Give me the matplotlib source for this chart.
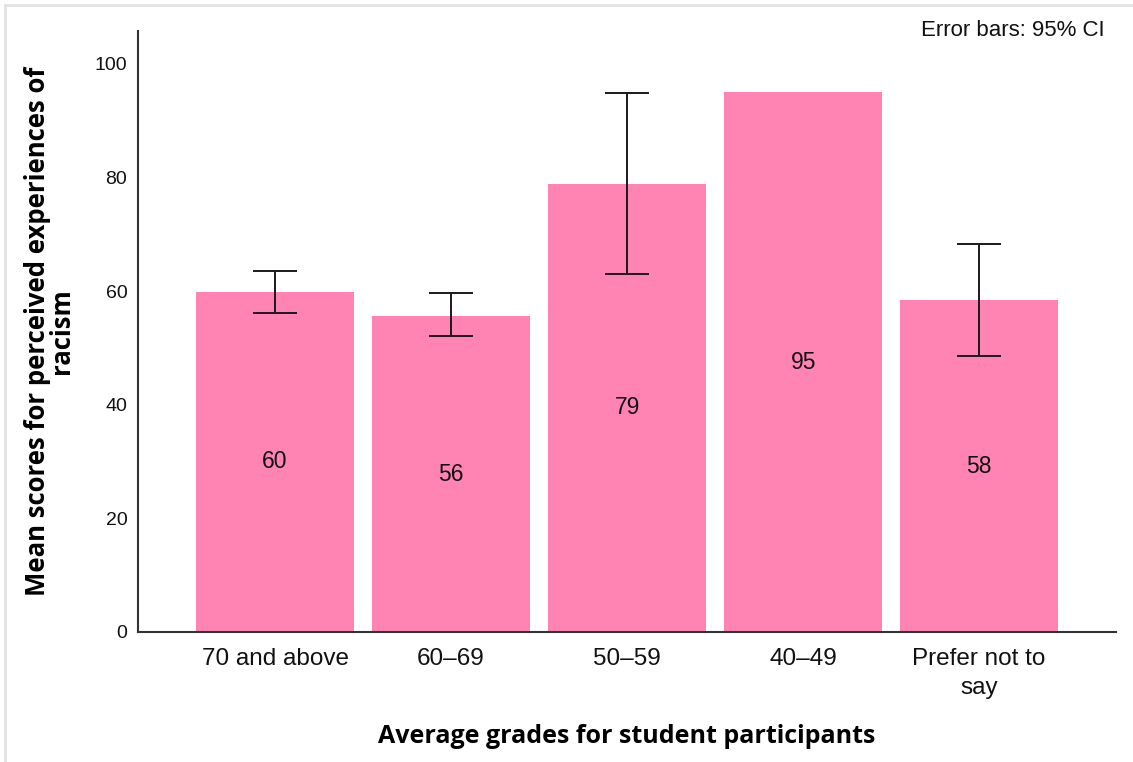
import matplotlib
matplotlib.use("Agg")
import matplotlib.pyplot as plt
from matplotlib.lines import Line2D

# Mean scores by grade band, with 95% confidence limits
categories = ["70 and above", "60\u201369", "50\u201359", "40\u201349", "Prefer not to\nsay"]
means = [59.9, 55.6, 78.9, 95.0, 58.4]
ci_low = [56.1, 52.0, 63.0, None, 48.6]
ci_high = [63.6, 59.6, 94.8, None, 68.3]
yticks = [0, 20, 40, 60, 80, 100]

bar_color = "#FF84B4"
tick_font = "Liberation Sans"
label_font = "Open Sans"

W, H = 1133, 762
fig = plt.figure(figsize=(W / 100, H / 100), dpi=100)
ax = fig.add_axes([137.7 / W, 1 - 632 / H, (1116.5 - 137.7) / W, (632 - 31) / H])

x = list(range(len(categories)))
ax.bar(x, means, width=0.9, color=bar_color, zorder=2)

# error bars only where a confidence interval exists
for xi, m, lo, hi in zip(x, means, ci_low, ci_high):
    if lo is None:
        continue
    ax.errorbar([xi], [m], yerr=[[m - lo], [hi - m]], fmt="none",
                ecolor="#1a1a1a", elinewidth=1.4, capsize=15.5,
                capthick=1.4, zorder=3)

# value labels at half height of each bar
for xi, m in zip(x, means):
    ax.text(xi, m / 2, f"{m:.0f}", ha="center", va="center",
            fontsize=16.5, family=tick_font, color="#111111", zorder=4)

ax.set_xlim(-0.78, 4.78)
ax.set_ylim(0, 105.75)
ax.set_yticks(yticks)
ax.set_xticks(x)
ax.set_xticklabels(categories, fontsize=17.5, family=tick_font, color="#111111",
                   linespacing=1.42)
ax.set_yticklabels([str(t) for t in yticks], fontsize=14, family=tick_font,
                   color="#111111")
ax.tick_params(axis="both", length=0)
ax.tick_params(axis="y", pad=7.5)
ax.tick_params(axis="x", pad=11.5)

for side in ("top", "right"):
    ax.spines[side].set_visible(False)
for side in ("left", "bottom"):
    ax.spines[side].set_color("#333333")
    ax.spines[side].set_linewidth(1.5)

ax.set_xlabel("Average grades for student participants", fontsize=18,
              family=label_font, fontweight="bold", labelpad=18)
ax.set_ylabel("Mean scores for perceived experiences of\nracism", fontsize=18.5,
              family=label_font, fontweight="bold", labelpad=14, linespacing=0.88)

fig.text(1105 / W, 1 - 31 / H, "Error bars: 95% CI", ha="right", va="center",
         fontsize=16, family=tick_font, color="#111111")

# thin frame along the top and left edges
fig.add_artist(Line2D([5 / W, 1], [1 - 5 / H, 1 - 5 / H], color="#e2e2e2",
                      lw=2, transform=fig.transFigure))
fig.add_artist(Line2D([5 / W, 5 / W], [0, 1 - 5 / H], color="#e2e2e2",
                      lw=2, transform=fig.transFigure))

fig.savefig("out.png", dpi=100, facecolor="white")
